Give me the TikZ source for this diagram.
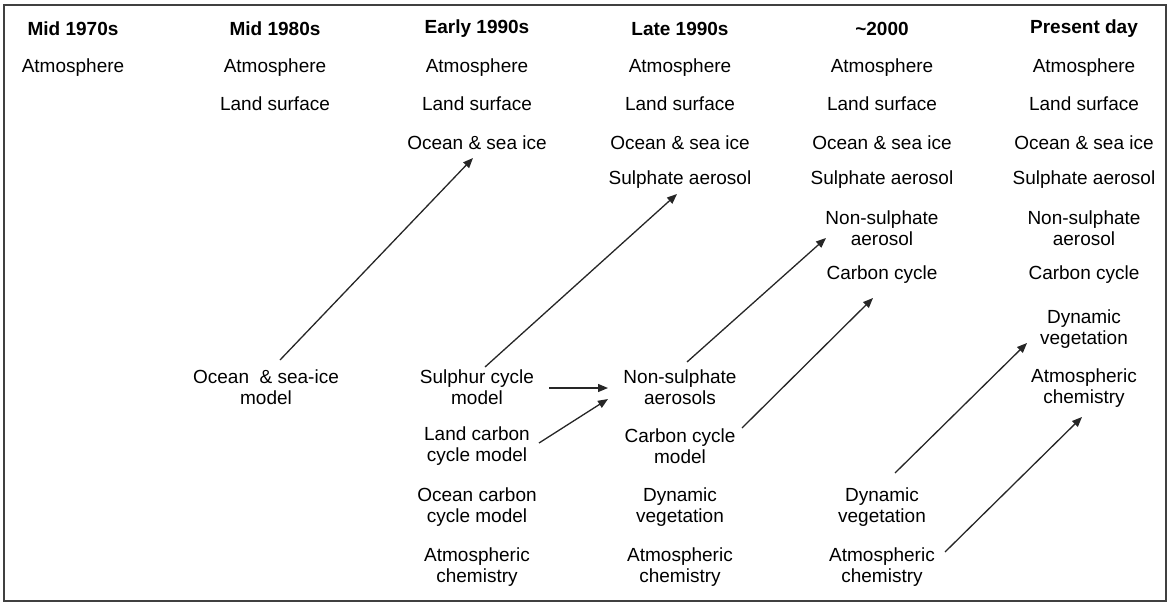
\documentclass[tikz,border=0pt]{standalone}
\usepackage{fontspec}
\setmainfont{Liberation Sans}
\usetikzlibrary{arrows.meta,calc}
\begin{document}
\begin{tikzpicture}[x=1pt,y=-1pt,
  lbl/.style={align=center,font=\fontsize{19}{21}\selectfont,inner sep=1pt,text=black},
  hdr/.style={align=center,font=\fontsize{19}{21}\selectfont\bfseries,inner sep=1pt,text=black},
  arr/.style={-{Triangle[length=10pt,width=8pt]},line width=1.3pt,draw=black!85}]
\useasboundingbox (0,0) rectangle (1171,603);
\draw[line width=2pt,draw=black!75] (4,5) rectangle (1166,601);
% headers
\node[hdr] (h1) at (73,29) {Mid 1970s};
\node[hdr] (h2) at (275,29) {Mid 1980s};
\node[hdr] (h3) at (477,29) {Early 1990s};
\node[hdr] (h4) at (680,29) {Late 1990s};
\node[hdr] (h5) at (882,29) {\textasciitilde2000};
\node[hdr] (h6) at (1084,29) {Present day};
% column 1
\node[lbl] (atm1) at (73,68) {Atmosphere};
% column 2
\node[lbl] (atm2) at (275,68) {Atmosphere};
\node[lbl] (land2) at (275,104) {Land surface};
% column 3
\node[lbl] (atm3) at (477,68) {Atmosphere};
\node[lbl] (land3) at (477,104) {Land surface};
\node[lbl] (ocn3) at (477,143) {Ocean \& sea ice};
% column 4
\node[lbl] (atm4) at (680,68) {Atmosphere};
\node[lbl] (land4) at (680,104) {Land surface};
\node[lbl] (ocn4) at (680,143) {Ocean \& sea ice};
\node[lbl] (sul4) at (680,180) {Sulphate aerosol};
% column 5
\node[lbl] (atm5) at (882,68) {Atmosphere};
\node[lbl] (land5) at (882,104) {Land surface};
\node[lbl] (ocn5) at (882,143) {Ocean \& sea ice};
\node[lbl] (sul5) at (882,180) {Sulphate aerosol};
\node[lbl] (nsa5) at (882,228) {Non-sulphate\\aerosol};
\node[lbl] (cc5) at (882,275) {Carbon cycle};
% column 6
\node[lbl] (atm6) at (1084,68) {Atmosphere};
\node[lbl] (land6) at (1084,104) {Land surface};
\node[lbl] (ocn6) at (1084,143) {Ocean \& sea ice};
\node[lbl] (sul6) at (1084,180) {Sulphate aerosol};
\node[lbl] (nsa6) at (1084,228) {Non-sulphate\\aerosol};
\node[lbl] (cc6) at (1084,275) {Carbon cycle};
\node[lbl] (dv6) at (1084,329) {Dynamic\\vegetation};
\node[lbl] (ac6) at (1084,388) {Atmospheric\\chemistry};
% lower models
\node[lbl] (osim) at (266,387.5) {Ocean \ \& sea-ice\\model};
\node[lbl] (scm) at (477,387.5) {Sulphur cycle\\model};
\node[lbl] (lccm) at (477,446.5) {Land carbon\\cycle model};
\node[lbl] (occm) at (477,507.5) {Ocean carbon\\cycle model};
\node[lbl] (ac3) at (477,567) {Atmospheric\\chemistry};
\node[lbl] (nsa4) at (680,387.5) {Non-sulphate\\aerosols};
\node[lbl] (ccm4) at (680,446.5) {Carbon cycle\\model};
\node[lbl] (dv4) at (680,507.5) {Dynamic\\vegetation};
\node[lbl] (ac4) at (680,567) {Atmospheric\\chemistry};
\node[lbl] (dv5) at (882,507.5) {Dynamic\\vegetation};
\node[lbl] (ac5) at (882,567) {Atmospheric\\chemistry};
% arrows
\draw[arr] ($(osim)+(14,-27.5)$) -- ($(ocn3)+(-4,15)$);
\draw[arr] ($(scm)+(8,-20.5)$) -- ($(sul4)+(-3,14)$);
\draw[arr] ($(scm)+(72,0.5)$) -- ($(nsa4)+(-72,0.5)$);
\draw[arr] ($(lccm)+(62,-3.5)$) -- ($(nsa4)+(-72,11.5)$);
\draw[arr] ($(nsa4)+(7,-25.5)$) -- ($(nsa5)+(-56,10)$);
\draw[arr] ($(ccm4)+(62,-18.5)$) -- ($(cc5)+(-9,23)$);
\draw[arr] ($(dv5)+(13,-34.5)$) -- ($(dv6)+(-57,14)$);
\draw[arr] ($(ac5)+(63,-15)$) -- ($(ac6)+(-2,29)$);
\end{tikzpicture}
\end{document}
